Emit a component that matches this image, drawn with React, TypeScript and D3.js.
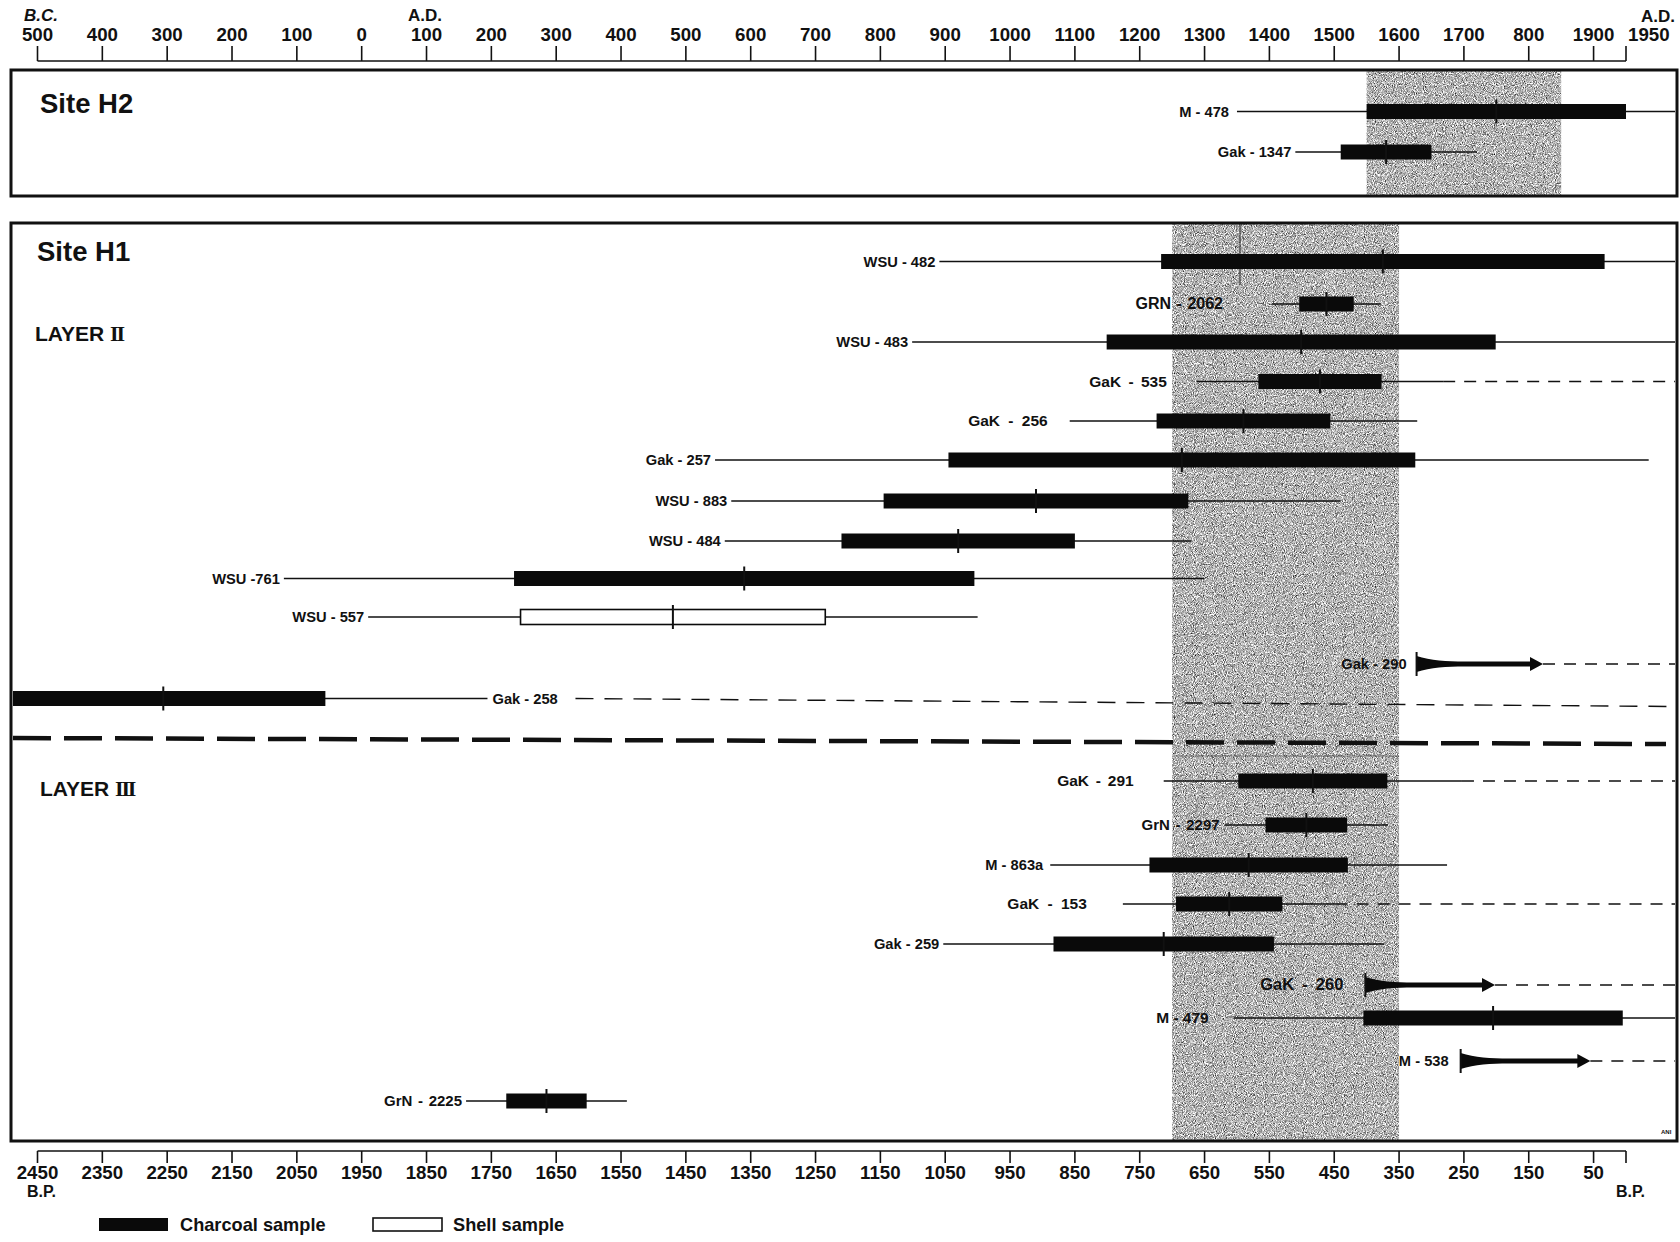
import React from 'react';
import * as d3 from 'd3';

const W = 1680;
const H = 1242;

// top axis: calendar years (BC negative), bottom axis: years B.P.
const adTicks = [-500, -400, -300, -200, -100, 0, 100, 200, 300, 400, 500, 600, 700, 800, 900, 1000, 1100, 1200, 1300, 1400, 1500, 1600, 1700, 1800, 1900, 1950];
const adTickLabels = ['500', '400', '300', '200', '100', '0', '100', '200', '300', '400', '500', '600', '700', '800', '900', '1000', '1100', '1200', '1300', '1400', '1500', '1600', '1700', '800', '1900', '1950'];
const bpTicks = [2450, 2350, 2250, 2150, 2050, 1950, 1850, 1750, 1650, 1550, 1450, 1350, 1250, 1150, 1050, 950, 850, 750, 650, 550, 450, 350, 250, 150, 50, 0];
const bpTickLabels = ['2450', '2350', '2250', '2150', '2050', '1950', '1850', '1750', '1650', '1550', '1450', '1350', '1250', '1150', '1050', '950', '850', '750', '650', '550', '450', '350', '250', '150', '50', ''];

// shaded occupation spans (B.P.)
const bandH2 = [400, 100];
const bandH1 = [700, 350];

// radiocarbon samples, in drawing order
const sampleLabels = ['M - 478', 'Gak - 1347', 'WSU - 482', 'GRN - 2062', 'WSU - 483', 'GaK - 535', 'GaK - 256', 'Gak - 257', 'WSU - 883', 'WSU - 484', 'WSU -761', 'WSU - 557', 'Gak - 290', 'Gak - 258', 'GaK - 291', 'GrN - 2297', 'M - 863a', 'GaK - 153', 'Gak - 259', 'GaK - 260', 'M - 479', 'M - 538', 'GrN - 2225'];
const sampleUnit = ['H2', 'H2', 'II', 'II', 'II', 'II', 'II', 'II', 'II', 'II', 'II', 'II', 'II', 'II', 'III', 'III', 'III', 'III', 'III', 'III', 'III', 'III', 'III'];
const sampleAge = [200, 370, 375, 462, 501, 472, 590, 685, 910, 1030, 1360, 1470, 323, 2256, 483, 493, 582, 612, 713, 402, 205, 255, 1665];
const sampleSigma = [200, 70, 342, 42, 300, 95, 134, 360, 235, 180, 355, 235, 0, 250, 115, 63, 153, 82, 170, 0, 200, 0, 62];
const sampleKind = ['charcoal', 'charcoal', 'charcoal', 'charcoal', 'charcoal', 'charcoal', 'charcoal', 'charcoal', 'charcoal', 'charcoal', 'charcoal', 'shell', 'modern', 'charcoal', 'charcoal', 'charcoal', 'charcoal', 'charcoal', 'charcoal', 'modern', 'charcoal', 'modern', 'charcoal'];
const sampleOpen = [false, false, false, false, false, true, false, false, false, false, false, false, true, true, true, false, false, true, false, true, false, true, false];

// "modern" results drawn as arrows: from the limit towards the tip (B.P.)
const modernLabels = ['Gak - 290', 'GaK - 260', 'M - 538'];
const modernTip = [128, 202, 55];

// layout: row positions per panel, label spacing and type
const rowPos: Record<string, number[]> = {
  H2: [111.5, 152],
  II: [261.5, 304, 342, 381.5, 421, 460, 501, 541, 578.5, 617, 664, 698.5],
  III: [781, 825, 865, 904, 944, 985, 1018, 1061, 1101],
};
const labelGap: Record<string, number> = {
  'M - 478': 8, 'GRN - 2062': 49, 'GaK - 535': 30, 'GaK - 256': 22, 'GaK - 153': 36, 'GaK - 291': 30,
  'M - 479': 25, 'Gak - 290': 10, 'GaK - 260': 22, 'M - 538': 12, 'GrN - 2297': 5, 'M - 863a': 7,
};
const labelType: Record<string, { fs: number; ws: number }> = {
  'GaK - 535': { fs: 15.5, ws: 3 }, 'GaK - 256': { fs: 15.5, ws: 4 }, 'GaK - 291': { fs: 15.5, ws: 2.5 },
  'GaK - 153': { fs: 15.5, ws: 4 }, 'GaK - 260': { fs: 16.5, ws: 3.5 }, 'GRN - 2062': { fs: 16, ws: 1 },
  'GrN - 2297': { fs: 15, ws: 1.5 }, 'GrN - 2225': { fs: 15, ws: 1.5 }, 'M - 479': { fs: 15.5, ws: 0 },
};

const FONT = '"Liberation Sans", Arial, Helvetica, sans-serif';
const SERIF = '"Liberation Serif", "DejaVu Serif", serif';
const frameL = 11;
const frameR = 1677;
const h2Top = 70, h2Bot = 196;
const h1Top = 223, h1Bot = 1141;
const lineR = frameR - 2;

const x = d3.scaleLinear().domain([2450, 0]).range([37.5, 1626]);
const xAD = (ad: number) => x(1950 - ad);
const clampX = (v: number) => Math.max(frameL + 2, Math.min(lineR, v));

function Sample({ i, y }: { i: number; y: number }) {
  const label = sampleLabels[i];
  const age = sampleAge[i];
  const s = sampleSigma[i];
  const kind = sampleKind[i];
  const gap = labelGap[label] ?? 4;
  const lt = labelType[label] ?? { fs: 14.7, ws: 0 };
  const textProps = { fontFamily: FONT, fontWeight: 700, fontSize: lt.fs, wordSpacing: lt.ws, fill: '#111' };

  if (kind === 'modern') {
    const x0 = x(age);
    const x1 = x(modernTip[modernLabels.indexOf(label)]);
    const p = d3.path();
    p.moveTo(x0, y - 8);
    p.bezierCurveTo(x0 + 14, y - 3.5, x0 + 30, y - 2.5, x0 + 48, y - 2.5);
    p.lineTo(x1 - 13, y - 2.5);
    p.lineTo(x1 - 13, y - 7);
    p.lineTo(x1, y);
    p.lineTo(x1 - 13, y + 7);
    p.lineTo(x1 - 13, y + 2.5);
    p.lineTo(x0 + 48, y + 2.5);
    p.bezierCurveTo(x0 + 30, y + 2.5, x0 + 14, y + 3.5, x0, y + 8);
    p.closePath();
    return (
      <g>
        <line x1={x1} x2={lineR} y1={y} y2={y} stroke="#111" strokeWidth={1.4} strokeDasharray="12 9" />
        <path d={p.toString()} fill="#0a0a0a" />
        <line x1={x0} x2={x0} y1={y - 12} y2={y + 12} stroke="#111" strokeWidth={2} />
        <text x={x0 - gap} y={y + 5} textAnchor="end" {...textProps}>{label}</text>
      </g>
    );
  }

  const wL = clampX(x(age + 2 * s));
  const wR = clampX(x(age - 2 * s));
  const bL = clampX(x(age + s));
  const bR = clampX(x(age - s));
  const xc = x(age);
  const labelAfter = sampleOpen[i] && wL <= frameL + 2;
  return (
    <g>
      <line x1={wL} x2={wR} y1={y} y2={y} stroke="#111" strokeWidth={1.5} />
      {sampleOpen[i] && !labelAfter && (
        <line x1={wR} x2={lineR} y1={y} y2={y} stroke="#111" strokeWidth={1.4} strokeDasharray="12 9" />
      )}
      {labelAfter && (
        <line x1={wR + 88} x2={lineR} y1={y} y2={y + 8} stroke="#111" strokeWidth={1.4} strokeDasharray="18 11" />
      )}
      <rect x={bL} y={y - 7.5} width={bR - bL} height={15}
        fill={kind === 'shell' ? '#fff' : '#0a0a0a'} stroke="#0a0a0a" strokeWidth={kind === 'shell' ? 1.6 : 0} />
      <line x1={xc} x2={xc} y1={y - 12} y2={y + 12} stroke="#111" strokeWidth={2} />
      {labelAfter ? (
        <text x={wR + 5} y={y + 5} textAnchor="start" {...textProps}>{label}</text>
      ) : (
        <text x={wL - gap} y={y + 5} textAnchor="end" {...textProps}>{label}</text>
      )}
    </g>
  );
}

function Band({ span, top, bottom }: { span: number[]; top: number; bottom: number }) {
  const x0 = x(span[0]);
  const x1 = x(span[1]);
  return <rect x={x0} y={top} width={x1 - x0} height={bottom - top} fill="#000" filter="url(#stipple)" />;
}

export default function App() {
  const counters: Record<string, number> = { H2: 0, II: 0, III: 0 };
  const rows = sampleLabels.map((_, i) => {
    const unit = sampleUnit[i];
    const y = rowPos[unit][counters[unit]++];
    return <Sample key={i} i={i} y={y} />;
  });

  const numStyle = { fontFamily: FONT, fontWeight: 700, fontSize: 18.7, fill: '#111' };
  const numeral = { fontFamily: SERIF, fontWeight: 700, fontSize: 22, letterSpacing: -2.2 };

  return (
    <div style={{ position: 'absolute', left: 0, top: 0, width: W, height: H, background: '#fff' }}>
      <svg width={W} height={H} viewBox={`0 0 ${W} ${H}`}>
        <defs>
          <filter id="stipple" x="0" y="0" width="1" height="1" colorInterpolationFilters="sRGB">
            <feTurbulence type="fractalNoise" baseFrequency="1.1" numOctaves={1} seed={5} result="n" />
            <feColorMatrix in="n" type="matrix"
              values="1 1 1 0 -0.8  1 1 1 0 -0.8  1 1 1 0 -0.8  0 0 0 0 1" result="g" />
            <feComposite in="g" in2="SourceGraphic" operator="in" />
          </filter>
        </defs>
        <rect width={W} height={H} fill="#fff" />

        {/* top calendar axis */}
        <text x={24} y={21} fontFamily={FONT} fontWeight={700} fontStyle="italic" fontSize={17} fill="#111">B.C.</text>
        <text x={408} y={21} fontFamily={FONT} fontWeight={700} fontSize={17} fill="#111">A.D.</text>
        <text x={1641} y={22} fontFamily={FONT} fontWeight={700} fontSize={17} fill="#111">A.D.</text>
        <line x1={xAD(-500)} x2={xAD(1950)} y1={61} y2={61} stroke="#111" strokeWidth={1.6} />
        {adTicks.map((t, k) => (
          <g key={t}>
            <line x1={xAD(t)} x2={xAD(t)} y1={46} y2={61} stroke="#111" strokeWidth={1.6} />
            <text x={t === 1950 ? xAD(t) + 2 : xAD(t)} y={41} textAnchor={t === 1950 ? 'start' : 'middle'} {...numStyle}>
              {adTickLabels[k]}
            </text>
          </g>
        ))}

        {/* Site H2 */}
        <Band span={bandH2} top={h2Top} bottom={h2Bot} />
        <rect x={frameL} y={h2Top} width={frameR - frameL} height={h2Bot - h2Top} fill="none" stroke="#111" strokeWidth={3} />
        <text x={40} y={113} fontFamily={FONT} fontWeight={700} fontSize={27.5} fill="#111">Site H2</text>

        {/* Site H1 */}
        <Band span={bandH1} top={h1Top} bottom={h1Bot} />
        <line x1={1240} x2={1240} y1={h1Top} y2={285} stroke="#222" strokeWidth={1} />
        <line x1={x(bandH1[0])} x2={x(bandH1[1])} y1={756} y2={756} stroke="#555" strokeWidth={0.8} />
        <rect x={frameL} y={h1Top} width={frameR - frameL} height={h1Bot - h1Top} fill="none" stroke="#111" strokeWidth={3} />
        <text x={37} y={261} fontFamily={FONT} fontWeight={700} fontSize={27.5} fill="#111">Site H1</text>
        <text x={35} y={341} fontFamily={FONT} fontWeight={700} fontSize={21} fill="#111">
          LAYER <tspan {...numeral}>II</tspan>
        </text>
        <text x={40} y={796} fontFamily={FONT} fontWeight={700} fontSize={21} fill="#111">
          LAYER <tspan {...numeral}>III</tspan>
        </text>
        <line x1={frameL + 2} x2={1666} y1={738} y2={744} stroke="#111" strokeWidth={4.5} strokeDasharray="38 13" />

        {rows}

        <text x={1661} y={1134} fontFamily={FONT} fontWeight={700} fontSize={6} fill="#111">ANI</text>

        {/* bottom B.P. axis */}
        <line x1={x(2450)} x2={x(0)} y1={1151} y2={1151} stroke="#111" strokeWidth={1.6} />
        {bpTicks.map((t, k) => (
          <g key={t}>
            <line x1={x(t)} x2={x(t)} y1={1151} y2={1163} stroke="#111" strokeWidth={1.6} />
            <text x={x(t)} y={1179} textAnchor="middle" {...numStyle}>{bpTickLabels[k]}</text>
          </g>
        ))}
        <text x={27} y={1197} fontFamily={FONT} fontWeight={700} fontSize={16} fill="#111">B.P.</text>
        <text x={1616} y={1197} fontFamily={FONT} fontWeight={700} fontSize={16} fill="#111">B.P.</text>

        {/* legend */}
        <rect x={99} y={1218} width={69} height={13} fill="#0a0a0a" />
        <text x={180} y={1231} fontFamily={FONT} fontWeight={700} fontSize={18.2} fill="#111">Charcoal sample</text>
        <rect x={373} y={1218} width={69} height={13} fill="#fff" stroke="#111" strokeWidth={1.6} />
        <text x={453} y={1231} fontFamily={FONT} fontWeight={700} fontSize={18.2} fill="#111">Shell sample</text>
      </svg>
    </div>
  );
}
